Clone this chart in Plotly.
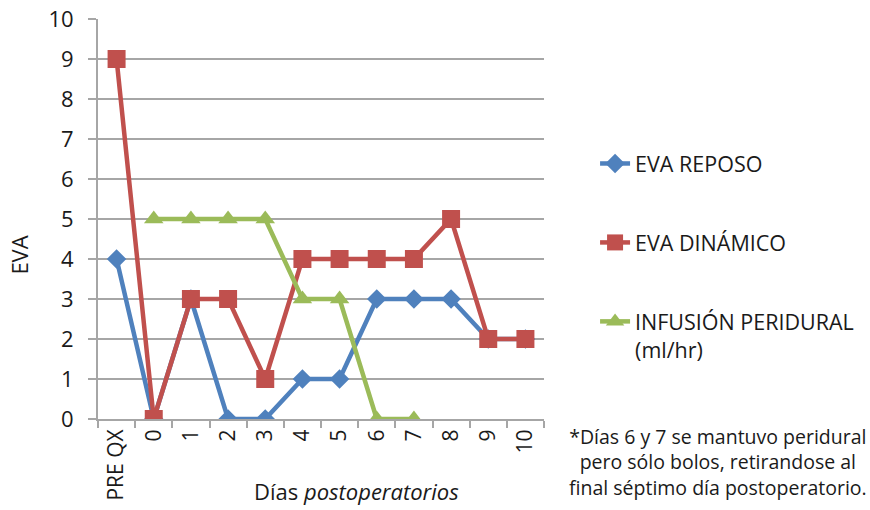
import plotly.graph_objects as go

categories = ["PRE QX", "0", "1", "2", "3", "4", "5", "6", "7", "8", "9", "10"]
eva_reposo = [4, 0, 3, 0, 0, 1, 1, 3, 3, 3, 2, 2]
eva_dinamico = [9, 0, 3, 3, 1, 4, 4, 4, 4, 5, 2, 2]
infusion = [None, 5, 5, 5, 5, 3, 3, 0, 0, None, None, None]
y_ticks = [0, 1, 2, 3, 4, 5, 6, 7, 8, 9, 10]

FONT = "Open Sans"
TXT = "#1a1a1a"
BLUE = "#4F81BD"
RED = "#C0504D"
GREEN = "#9BBB59"
GRID = "#A6A6A6"

fig = go.Figure()
fig.add_trace(go.Scatter(
    x=categories, y=eva_reposo, name="EVA REPOSO", mode="lines+markers",
    line=dict(color=BLUE, width=4.5), marker=dict(symbol="diamond", size=15, color=BLUE),
    legendgroup="a"))
fig.add_trace(go.Scatter(
    x=categories, y=eva_dinamico, name="EVA DINÁMICO", mode="lines+markers",
    line=dict(color=RED, width=4.5), marker=dict(symbol="square", size=18, color=RED),
    legendgroup="b"))
fig.add_trace(go.Scatter(
    x=categories, y=infusion, name="INFUSIÓN PERIDURAL<br>(ml/hr)", mode="lines+markers",
    line=dict(color=GREEN, width=4.5), marker=dict(symbol="triangle-up", size=17, color=GREEN),
    legendgroup="c"))

fig.update_layout(
    width=870, height=510,
    margin=dict(l=98, r=325, t=19, b=91),
    paper_bgcolor="white", plot_bgcolor="white",
    font=dict(family=FONT, color=TXT),
    showlegend=True,
    legend=dict(x=1.112, y=0.69, xanchor="left", yanchor="top",
                font=dict(family=FONT, size=21.5, color=TXT),
                traceorder="grouped", tracegroupgap=48, valign="top",
                bgcolor="rgba(0,0,0,0)"),
)
fig.update_xaxes(
    type="category", categoryorder="array", categoryarray=categories,
    range=[-0.5, 11.5], automargin=False,
    showline=True, linecolor=GRID, linewidth=2,
    ticks="outside", tickson="boundaries", ticklen=7, tickcolor=GRID, tickwidth=2,
    tickangle=-90, tickfont=dict(family=FONT, size=21, color=TXT),
    showgrid=False,
)
fig.update_yaxes(
    range=[0, 10], tickvals=y_ticks, automargin=False,
    showline=True, linecolor=GRID, linewidth=2,
    ticks="outside", ticklen=8, tickcolor=GRID, tickwidth=2,
    ticklabelstandoff=10,
    showgrid=True, gridcolor=GRID, gridwidth=2,
    zeroline=False,
    tickfont=dict(family=FONT, size=22, color=TXT),
)
# Axis titles
fig.add_annotation(
    xref="paper", yref="paper", x=0.58, y=-0.222, xanchor="center", yanchor="bottom",
    text="Días <i>postoperatorios</i>", showarrow=False,
    font=dict(family=FONT, size=22, color=TXT))
fig.add_annotation(
    xref="paper", yref="paper", x=-0.178, y=0.41, xanchor="center", yanchor="middle",
    text="EVA", textangle=-90, showarrow=False,
    font=dict(family=FONT, size=22, color=TXT))
# Footnote
fig.add_annotation(
    xref="paper", yref="paper", x=1.39, y=-0.005, xanchor="center", yanchor="top",
    text="*Días 6 y 7 se mantuvo peridural<br>pero sólo bolos, retirandose al<br>final séptimo día postoperatorio.",
    showarrow=False, align="center", font=dict(family=FONT, size=19.5, color=TXT),
)

fig.write_html("out.html", config={"displayModeBar": False},
               post_script="document.body.style.margin='0';document.body.style.overflow='hidden';")
